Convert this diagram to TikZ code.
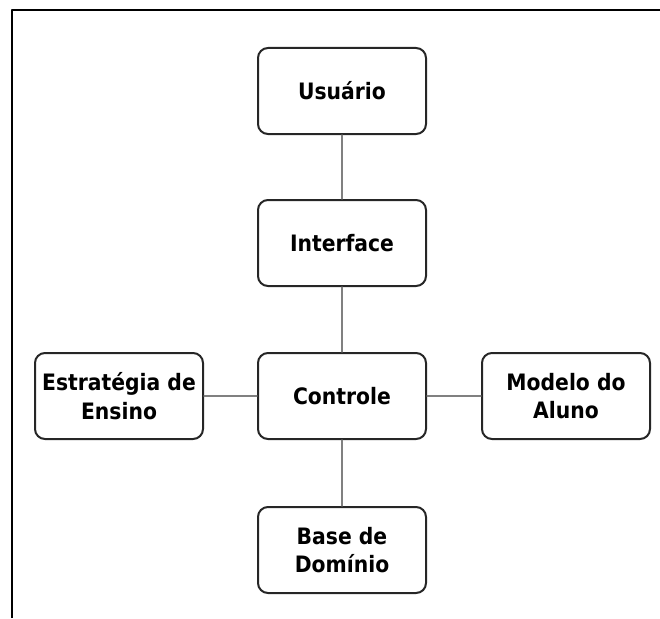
\documentclass[tikz,border=0pt]{standalone}
\usepackage{fontspec}
\setmainfont{DejaVu Sans Condensed}
\begin{document}
\begin{tikzpicture}[x=1pt, y=-1pt, line join=round, line cap=round,
	modulo/.style={draw=black!85, rounded corners=10pt, line width=2pt, minimum width=168pt, minimum height=86pt, align=center, inner sep=0pt, font=\fontsize{22.6}{28.5}\selectfont\bfseries},
	liga/.style={draw=black!50, line width=1.2pt}]
			
			\useasboundingbox (0,0) rectangle (660,618);
			
			\draw[line width=2.2pt, line cap=butt] (12,618) -- (12,10) -- (660,10);
			
			\node[modulo] (usuario) at (342, 91) {Usuário};
			\node[modulo] (interface) at (342, 243) {Interface};
			\node[modulo] (controle) at (342, 396) {Controle};
			\node[modulo] (estrategia) at (119, 396) {Estratégia de\\Ensino};
			\node[modulo] (aluno) at (566, 396) {Modelo do\\Aluno};
			\node[modulo] (dominio) at (342, 550) {Base de\\Domínio};
			
			\draw[liga] (usuario) -- (interface)
			 (interface) -- (controle)
			 (controle) -- (dominio)
			 (controle) -- (estrategia)
			 (controle) -- (aluno);
	\end{tikzpicture}
\end{document}
